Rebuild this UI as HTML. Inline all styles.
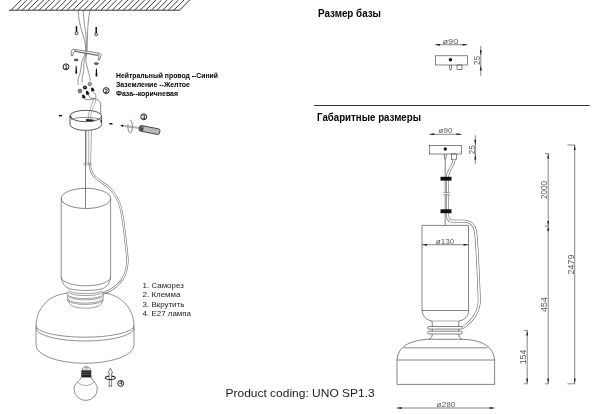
<!DOCTYPE html>
<html><head><meta charset="utf-8">
<style>
html,body{margin:0;padding:0;background:#fff;}
body{width:600px;height:414px;overflow:hidden;font-family:"Liberation Sans",sans-serif;}
svg{display:block;position:absolute;left:0;top:0;filter:grayscale(1);}
text{font-family:"Liberation Sans",sans-serif;}
.b{font-weight:bold;fill:#000;}
.d{fill:#5a5a5a;font-size:7.8px;}
.dv{fill:#5a5a5a;font-size:8.4px;}
</style></head><body>
<svg width="600" height="414" viewBox="0 0 600 414">
<defs>
<marker id="ar" viewBox="0 0 10 4" refX="10" refY="2" markerWidth="5.6" markerHeight="2" markerUnits="userSpaceOnUse" orient="auto-start-reverse"><path d="M0,0L10,2L0,4z" fill="#222"/></marker>
</defs>
<rect width="600" height="414" fill="#fff"/>

<!-- ===== LEFT: ceiling ===== -->
<g id="ceiling">
<path d="M11.00,10.2L21.20,0M16.62,10.2L26.82,0M22.23,10.2L32.43,0M27.85,10.2L38.05,0M33.47,10.2L43.67,0M39.08,10.2L49.28,0M44.70,10.2L54.90,0M50.32,10.2L60.52,0M55.93,10.2L66.13,0M61.55,10.2L71.75,0M67.17,10.2L77.37,0M72.78,10.2L82.98,0M78.40,10.2L88.60,0M84.02,10.2L94.22,0M89.63,10.2L99.83,0M95.25,10.2L105.45,0M100.87,10.2L111.07,0M106.48,10.2L116.68,0M112.10,10.2L122.30,0M117.72,10.2L127.92,0M123.33,10.2L133.53,0M128.95,10.2L139.15,0M134.57,10.2L144.77,0M140.18,10.2L150.38,0M145.80,10.2L156.00,0M151.42,10.2L161.62,0M157.03,10.2L167.23,0M162.65,10.2L172.85,0M168.27,10.2L178.47,0M173.88,10.2L184.08,0M179.50,10.2L189.70,0" stroke="#222" stroke-width="0.9" fill="none"/>
<line x1="9" y1="10.2" x2="179.9" y2="10.2" stroke="#222" stroke-width="0.9"/>
</g>

<!-- wires from ceiling -->
<g id="wires" fill="none" stroke="#555" stroke-width="0.65">
<path d="M78.2,10.5 C78.6,20 80.5,27 82,31.5 C83.6,37 85.2,42 85.6,46 C86,49 86,52 85.2,54 C83.5,58 82,60 81.7,62.2 C81,66 81,69 80.3,72.3 C79.6,76 77,79 78.4,85"/>
<path d="M83.3,10.5 C83.6,20 84.8,27 85.6,31.5 C86.2,37 86.4,42 86.3,46 C86.3,49 86.4,52 86,54 C85.2,58 84.2,60 84,62.2 C83.4,66 84,69 83.5,71.4 C83,76 81.2,78 82.4,82.3"/>
<path d="M90,10.5 C88.7,17 87.8,25 87.6,31.5 C87.4,37 87.3,42 87.2,46 C87.1,49 86.9,52 86.6,54 C86,58 85.8,60 86,62.2 C86.6,66 87.9,69 88.6,72.3 C89.3,76 90.6,78 90,81"/>
</g>

<!-- screws top -->
<g id="screws1" stroke="#111" fill="none">
<line x1="76.5" y1="26.1" x2="76.5" y2="32" stroke-width="1.5"/>
<circle cx="76.5" cy="33.3" r="1.45" stroke-width="0.8" fill="#fff"/>
<line x1="96.2" y1="27.1" x2="96.2" y2="33" stroke-width="1.5"/>
<circle cx="96.2" cy="34.4" r="1.45" stroke-width="0.8" fill="#fff"/>
</g>

<!-- bracket -->
<g id="bracket" fill="#fff" stroke="#333" stroke-width="0.6">
<path d="M73.5,49.2 L99.6,53.3 C100.8,53.6 101.2,54.6 101,55.8 L99.3,60.2 L98,59.8 L99,56.3 C99.1,55.6 98.8,55.3 98,55.2 L75,51.3 C74,51.3 73.3,52 73.2,53 L73,55.6 L71.4,55.8 L71.2,52.4 C71.3,50.6 72.2,49.4 73.5,49.2 Z"/>
<path d="M74.6,49.4 L75.6,51.4 M97.6,53.1 L98.6,55.2" fill="none" stroke-width="0.5"/>
<path d="M74.3,51.2 L97.3,55.6" fill="none" stroke-width="0.5"/>
</g>
<g id="washers" fill="#777" stroke="#222" stroke-width="0.7">
<ellipse cx="76.2" cy="59.9" rx="2" ry="0.9"/>
<ellipse cx="96.4" cy="63.6" rx="2" ry="0.9"/>
</g>
<g id="screws2" fill="#111" stroke="none">
<path d="M75.8,65.8 L76.6,65.8 L77.2,73.2 L76.3,74 L75.3,73.2 Z"/>
<path d="M96,68.5 L96.8,68.5 L97.4,76 L96.5,76.8 L95.5,76 Z"/>
</g>

<!-- connectors -->
<g id="conn">
<circle cx="89.8" cy="84.1" r="1.7" fill="#ddd" stroke="#444" stroke-width="0.7"/>
<path d="M88.9,83.2 L90.7,85 M90.7,83.2 L88.9,85" stroke="#444" stroke-width="0.4"/>
<circle cx="85" cy="87.5" r="2.1" fill="#222"/>
<circle cx="85" cy="87.3" r="0.7" fill="#999"/>
<circle cx="80" cy="91" r="1.9" fill="#888" stroke="#333" stroke-width="0.6"/>
<path transform="translate(92.4 89.3) rotate(-22)" d="M-1.7,2 L-1.2,-0.7 C-1.1,-2.3 1.1,-2.3 1.2,-0.7 L1.7,2 Z" fill="#111"/>
<path transform="translate(87.3 92.7) rotate(-22)" d="M-1.7,2 L-1.2,-0.7 C-1.1,-2.3 1.1,-2.3 1.2,-0.7 L1.7,2 Z" fill="#111"/>
<path transform="translate(83.5 96.3) rotate(-22)" d="M-1.7,2 L-1.2,-0.7 C-1.1,-2.3 1.1,-2.3 1.2,-0.7 L1.7,2 Z" fill="#111"/>
<g fill="none" stroke="#333" stroke-width="0.6">
<path d="M93,91.5 C95,93 96.8,95.5 95.4,98.8"/>
<path d="M88,95 C90,97.5 92,98.8 94.5,99"/>
<path d="M84,98.6 C87,100.8 90,99.2 93,98.9 C98,99 101,101 100.7,106"/>
</g>
</g>

<!-- canopy -->
<g id="canopy" fill="none" stroke="#222" stroke-width="0.75">
<path d="M70,116 L70,124.5 A15.8,5.9 0 0 0 101.6,124.5 L101.6,116" fill="#fff"/>
<ellipse cx="85.8" cy="116" rx="15.8" ry="5.7" fill="#fff"/>
<path d="M70.9,120.3 A14.9,2.9 0 0 1 100.7,120.3" stroke-width="0.6" stroke="#444"/>
<path d="M86,119 L93.5,119.4 L93.5,121.2 L86,121 Z" fill="#222" stroke="none"/>
<ellipse cx="70.8" cy="117" rx="0.5" ry="1.3" stroke-width="0.5"/>
<ellipse cx="100.8" cy="121" rx="0.5" ry="1.3" stroke-width="0.5"/>
<path d="M93.6,99.2 C92.4,104 90,108 88.9,113 C88.5,115 88.3,117 88.2,119.2 M96,99.6 C94.8,104.5 92.2,108.5 91.2,113 C90.8,115 90.6,117 90.5,119.2" stroke="#666" stroke-width="0.5"/>
<path d="M100.7,106 L100.7,114.2" stroke="#333" stroke-width="0.6"/>
</g>
<rect x="59" y="114.9" width="3" height="1.5" fill="#111"/>
<rect x="109.4" y="123" width="3" height="1.5" fill="#111"/>

<!-- screwdriver -->
<g id="driver">
<path d="M130.1,120.1 A2.2,6.4 0 1 1 128.05,124.2" fill="none" stroke="#333" stroke-width="0.6"/>
<path d="M122,125.3 L139.5,127.6 M122,126.2 L139.5,128.5" stroke="#666" stroke-width="0.5" fill="none"/>
<path d="M120,125.5 L123,124.5 L123,126.9 Z" fill="#222"/>
<g transform="rotate(11 139.5 128)">
<rect x="139.3" y="125.2" width="20.8" height="5.7" rx="1.7" fill="#c8c8c8" stroke="#2a2a2a" stroke-width="0.8"/>
<rect x="139.7" y="125.6" width="4" height="4.9" rx="1.2" fill="#4a4a4a"/>
<line x1="140.3" y1="126.8" x2="143.3" y2="126.8" stroke="#bbb" stroke-width="0.5"/>
<line x1="144.5" y1="126.5" x2="159" y2="126.5" stroke="#777" stroke-width="0.5" stroke-dasharray="1,0.9"/>
<line x1="145" y1="128" x2="159" y2="128" stroke="#777" stroke-width="0.5" stroke-dasharray="1,0.9"/>
<line x1="144.5" y1="129.5" x2="159" y2="129.5" stroke="#777" stroke-width="0.5" stroke-dasharray="1,0.9"/>
</g>
</g>

<!-- circled numbers -->
<g id="nums" fill="#fff" stroke="#1a1a1a" stroke-width="1">
<circle cx="66" cy="66.8" r="2.95"/>
<circle cx="106.2" cy="90.6" r="2.95"/>
<circle cx="143.7" cy="116.8" r="2.95"/>
<circle cx="120.7" cy="383.4" r="2.95"/>
</g>
<g font-size="5.6" fill="#111" text-anchor="middle" font-weight="bold">
<text x="66.1" y="68.8">1</text>
<text x="106.2" y="92.6">2</text>
<text x="143.7" y="118.8">3</text>
<text x="120.7" y="385.4">4</text>
</g>

<!-- rod + cable -->
<g id="rod" fill="none">
<path id="cabL" d="M89.6,163 C90,168 91.5,173.5 95,177 C99.5,181 105,184 109.5,188 C114,192.5 118,199 120.5,207 C123,217 124.5,230 125.8,243 C126.6,250 127.5,256 127.4,262 C127.2,270 124.5,279 116.5,286 C111.5,290 106,292.6 102.4,294" stroke="#666" stroke-width="2.3"/>
<path d="M89.6,162.5 C90,168 91.5,173.5 95,177 C99.5,181 105,184 109.5,188 C114,192.5 118,199 120.5,207 C123,217 124.5,230 125.8,243 C126.6,250 127.5,256 127.4,262 C127.2,270 124.5,279 116.5,286 C111.5,290 106,292.6 101.8,294.2" stroke="#fff" stroke-width="1.2"/>
<line x1="85.5" y1="130.4" x2="85.5" y2="207.8" stroke="#555" stroke-width="0.75"/>
<line x1="86.6" y1="130.4" x2="86.6" y2="164" stroke="#888" stroke-width="0.5"/>
<path d="M88.8,130.3 C88.8,145 88.7,155 88.7,163.5" stroke="#666" stroke-width="0.55"/>
<path d="M91.6,130 C91.3,145 90.8,155 90.5,163.5" stroke="#666" stroke-width="0.55"/>
<path d="M83.3,163.2 L91.8,163.2 M83.3,164.9 L91.8,164.9" stroke="#777" stroke-width="0.5"/>
</g>

<!-- cylinder shade -->
<g id="cyl" fill="none" stroke="#555" stroke-width="0.65">
<ellipse cx="85.9" cy="198.4" rx="24.7" ry="10.1" stroke="#444"/>
<path d="M61.2,198.7 L61.2,277 C62,283 64.6,287 69.6,288.8 C78,291 94,291 102.2,288.8 C107.2,287 109.8,283 110.6,277 L110.6,198.7"/>
<path d="M61.2,277 A24.7,8.8 0 0 0 110.6,277"/>
</g>

<!-- neck threads -->
<g id="neck" fill="none" stroke="#555" stroke-width="0.55">
<path d="M68.6,290.6 A17,3.6 0 0 0 102.2,290.6"/>
<path d="M68.2,291.8 A17.2,3.8 0 0 0 102.6,291.8"/>
<path d="M67.8,294.6 A17.6,4.3 0 0 0 102.9,294.6"/>
<path d="M67.8,295.9 A17.6,4.3 0 0 0 102.9,295.9"/>
<path d="M67.8,298.8 A17.6,4.7 0 0 0 102.9,298.8"/>
<path d="M67.8,300.1 A17.6,4.7 0 0 0 102.9,300.1"/>
<path d="M67.8,291.5 C67.2,292.5 67.2,293.8 67.8,294.6 C67.2,295.6 67.2,297.8 67.8,298.8 C67.2,299.8 67.4,301 68.6,301.6 M102.9,291.5 C103.5,292.5 103.5,293.8 102.9,294.6 C103.5,295.6 103.5,297.8 102.9,298.8 C103.5,299.8 103.3,301 102.1,301.6"/>
<path d="M68.8,301.3 C68.6,305 74,308.2 85.6,308.2 C97,308.2 102.4,305 102.1,301.3"/>
</g>

<!-- dome base -->
<g id="dome" fill="none" stroke="#555" stroke-width="0.65">
<path d="M67.3,293.2 C57.5,294.2 49.5,298 44.3,304 C39.3,309.5 36.4,316.5 36,325.6 L36,345 A49,18.3 0 0 0 134,345 L134,325.6 C133.6,316.5 130.7,309.5 125.7,304 C120.5,298 112.5,294 104,292.8"/>
<path d="M36,325.6 A49,11.6 0 0 0 134,325.6"/>
<path d="M36,328 A49,13 0 0 0 134,328"/>
</g>

<!-- bulb -->
<g id="bulb">
<path d="M81.3,377 C80.5,381 74,383 74,389 A11.6,11.4 0 0 0 97.3,389 C97.3,383 91.5,381 91.3,377 Z" fill="#fff" stroke="#444" stroke-width="0.6"/>
<path d="M76.6,381.8 Q85.6,389.5 94.9,381.8" fill="none" stroke="#555" stroke-width="0.5"/>
<rect x="81.3" y="370.3" width="10" height="6.9" fill="#222"/>
<line x1="81.8" y1="372.3" x2="90.8" y2="372.3" stroke="#888" stroke-width="0.5"/>
<line x1="81.8" y1="374.5" x2="90.8" y2="374.5" stroke="#888" stroke-width="0.5"/>
<path d="M82.3,370.3 C82.3,365.3 90.3,365.3 90.3,370.3 Z" fill="#fff" stroke="#444" stroke-width="0.6"/>
<ellipse cx="86.3" cy="368.3" rx="1.7" ry="0.9" fill="none" stroke="#555" stroke-width="0.5"/>
</g>
<!-- arrow 4 -->
<g id="arrow4">
<path d="M110.4,368.2 L112.7,372.9 L111.6,372.9 L111.6,386.8 L110.4,385.4 L109.2,386.8 L109.2,372.9 L108.1,372.9 Z" fill="#fff" stroke="#333" stroke-width="0.6"/>
<path d="M111.6,376.1 A5,1.8 0 1 1 109,376.1" fill="none" stroke="#222" stroke-width="1.1"/>
</g>

<!-- left texts -->
<g class="b" font-size="7.4">
<text x="116" y="77.8" textLength="102" lengthAdjust="spacingAndGlyphs">Нейтральный провод --Синий</text>
<text x="116" y="86.7" textLength="74" lengthAdjust="spacingAndGlyphs">Заземление --Желтое</text>
<text x="116" y="95.6" textLength="62" lengthAdjust="spacingAndGlyphs">Фаза--коричневая</text>
</g>
<g font-size="7.95" fill="#222">
<text x="142.6" y="287.5">1. Саморез</text>
<text x="142.6" y="296.9">2. Клемма</text>
<text x="142.6" y="306.5">3. Вкрутить</text>
<text x="142.6" y="316.1">4. Е27 лампа</text>
</g>
<text x="225.5" y="396.8" font-size="11.6" fill="#222" textLength="149.2" lengthAdjust="spacingAndGlyphs">Product coding: UNO SP1.3</text>

<!-- ===== RIGHT ===== -->
<text class="b" x="318" y="16.6" font-size="10.6" textLength="63" lengthAdjust="spacingAndGlyphs">Размер базы</text>
<line x1="314" y1="105.5" x2="589.7" y2="105.5" stroke="#333" stroke-width="1"/>
<text class="b" x="317" y="121" font-size="10.6" textLength="104" lengthAdjust="spacingAndGlyphs">Габаритные размеры</text>

<!-- base size small diagram -->
<g id="basesz" fill="none" stroke="#333" stroke-width="0.6">
<line x1="435" y1="44.7" x2="467.5" y2="44.7" marker-start="url(#ar)" marker-end="url(#ar)"/>
<rect x="435.5" y="55.8" width="32" height="9.2"/>
<circle cx="450.5" cy="59.7" r="1.7" fill="#111" stroke="none"/>
<path d="M449.5,65 L449.5,68 L450,70 L451,70 L451.5,68 L451.5,65"/>
<rect x="457" y="65" width="5" height="4.5"/>
<line x1="480.8" y1="45.8" x2="480.8" y2="75.8"/>
<path d="M480.8,55.8 L479.8,50.3 L481.8,50.3 Z M480.8,65 L479.8,70.5 L481.8,70.5 Z" fill="#222" stroke="none"/>
</g>
<text class="d" x="450.4" y="43.6" text-anchor="middle" textLength="15.6" lengthAdjust="spacingAndGlyphs">ø90</text>
<text class="dv" transform="translate(480,60.4) rotate(-90)" text-anchor="middle" textLength="9.2" lengthAdjust="spacingAndGlyphs">25</text>

<!-- overall dims diagram -->
<g id="overall" fill="none" stroke="#333" stroke-width="0.6">
<line x1="429.3" y1="134.3" x2="461.6" y2="134.3" marker-start="url(#ar)" marker-end="url(#ar)"/>
<rect x="429.5" y="145.3" width="32" height="8.7"/>
<circle cx="445.3" cy="149" r="1.7" fill="#111" stroke="none"/>
<path d="M444.3,154 L444.3,157 L444.8,159 L445.6,159 L446.2,157 L446.2,154"/>
<rect x="451.3" y="154" width="5.4" height="5.5"/>
<line x1="475.3" y1="135.3" x2="475.3" y2="164.4"/>
<path d="M475.3,145.3 L474.3,139.8 L476.3,139.8 Z M475.3,154 L474.3,159.5 L476.3,159.5 Z" fill="#222" stroke="none"/>
<!-- rod -->
<line x1="445.2" y1="159" x2="445.2" y2="225.4"/>
<!-- cable -->
<path d="M454,159.6 C454,166 447.6,170 447.6,177 L447.6,215 C447.6,219.5 449.5,221.2 452.5,221.2 L464,221.2 C470.5,221.2 474.3,225 475.5,231 C477.2,245 478.2,270 479.3,300 C479.3,310.5 474.7,319.5 462.6,327.8" stroke="#555" stroke-width="2.8"/>
<path d="M454,159.6 C454,166 447.6,170 447.6,177 L447.6,215 C447.6,219.5 449.5,221.2 452.5,221.2 L464,221.2 C470.5,221.2 474.3,225 475.5,231 C477.2,245 478.2,270 479.3,300 C479.3,310.5 474.7,319.5 462.6,327.8" stroke="#fff" stroke-width="1.75"/>
<rect x="440.5" y="176.8" width="11" height="3.8" fill="#111" stroke="none"/>
<rect x="440.5" y="209.3" width="11" height="3.9" fill="#111" stroke="none"/>
<rect x="443" y="192.7" width="8" height="2" fill="#fff" stroke="none"/>
<path d="M443.5,192.9 Q445.2,191.6 446.6,192.7 Q448,191.6 449.8,192.7 M443.5,195 Q445.2,193.7 446.6,194.8 Q448,193.7 449.8,194.8" stroke-width="0.5"/>
<!-- cylinder -->
<path d="M422,310.5 L422,225.4 L468.5,225.4 L468.5,310.5"/>
<line x1="422" y1="244.7" x2="468.5" y2="244.7" marker-start="url(#ar)" marker-end="url(#ar)"/>
<line x1="422" y1="310.5" x2="468.8" y2="310.5"/>
<path d="M422.2,310.5 C422.5,316 426,320 432,321 C432,323 432.3,324.5 432.5,326.5 M468.8,310.5 C468.5,316 465,320 459,321 C459,323 458.7,324.5 458.5,326.5"/>
<line x1="432" y1="321" x2="459" y2="321" stroke-width="0.4"/>
<!-- threads -->
<rect x="427.6" y="326.5" width="34.7" height="2.6" rx="1.3"/>
<rect x="427.6" y="331.2" width="34.7" height="2.8" rx="1.4"/>
<path d="M432.3,329.1 L432.3,331.2 M458.8,329.1 L458.8,331.2"/>
<path d="M432.3,334 C432.3,337 431,338.5 429,339.3 M458.8,334 C458.8,337 460,338.5 462,339.3"/>
<!-- dome -->
<path d="M397,384.4 L397,360 C397.5,352 402,346 411,342.5 C418,340 424,339.3 429,339.3 L462,339.3 C467,339.3 474,340 481,342.5 C489.5,346 494,352 494.6,360 L494.6,384.4 Z"/>
<line x1="404" y1="347.8" x2="487.5" y2="347.8"/>
<line x1="397" y1="360" x2="494.6" y2="360"/>
<line x1="396.6" y1="408" x2="494.6" y2="408" marker-start="url(#ar)" marker-end="url(#ar)"/>
<!-- right dim lines -->
<line x1="527.2" y1="330.4" x2="527.2" y2="383.6" marker-start="url(#ar)" marker-end="url(#ar)"/>
<line x1="524" y1="330.4" x2="527.5" y2="330.4"/>
<line x1="524" y1="383.8" x2="527.5" y2="383.8"/>
<line x1="548.2" y1="153.6" x2="548.2" y2="226" marker-start="url(#ar)" marker-end="url(#ar)"/>
<line x1="548.2" y1="226" x2="548.2" y2="383.6" marker-start="url(#ar)" marker-end="url(#ar)"/>
<line x1="545" y1="153.6" x2="548.5" y2="153.6"/>
<line x1="545" y1="226" x2="548.5" y2="226"/>
<line x1="545" y1="383.8" x2="548.5" y2="383.8"/>
<line x1="574.7" y1="145" x2="574.7" y2="383.6" marker-start="url(#ar)" marker-end="url(#ar)"/>
<line x1="567.5" y1="145" x2="575" y2="145"/>
<line x1="567.5" y1="383.8" x2="575" y2="383.8"/>
</g>
<text class="d" x="445.5" y="132.8" text-anchor="middle" textLength="14" lengthAdjust="spacingAndGlyphs">ø90</text>
<text class="dv" transform="translate(474.6,149.8) rotate(-90)" text-anchor="middle" textLength="9.4" lengthAdjust="spacingAndGlyphs">25</text>
<text class="d" x="445" y="243.8" text-anchor="middle" textLength="18.3" lengthAdjust="spacingAndGlyphs">ø130</text>
<text class="d" x="446" y="407" text-anchor="middle" textLength="18.8" lengthAdjust="spacingAndGlyphs">ø280</text>
<text class="dv" transform="translate(547.4,190) rotate(-90)" text-anchor="middle" textLength="18" lengthAdjust="spacingAndGlyphs">2000</text>
<text class="dv" transform="translate(574,264.5) rotate(-90)" text-anchor="middle" textLength="20" lengthAdjust="spacingAndGlyphs">2479</text>
<text class="dv" transform="translate(547.2,304.5) rotate(-90)" text-anchor="middle" textLength="15" lengthAdjust="spacingAndGlyphs">454</text>
<text class="dv" transform="translate(526.2,357) rotate(-90)" text-anchor="middle" textLength="14.5" lengthAdjust="spacingAndGlyphs">154</text>
</svg>
</body></html>
